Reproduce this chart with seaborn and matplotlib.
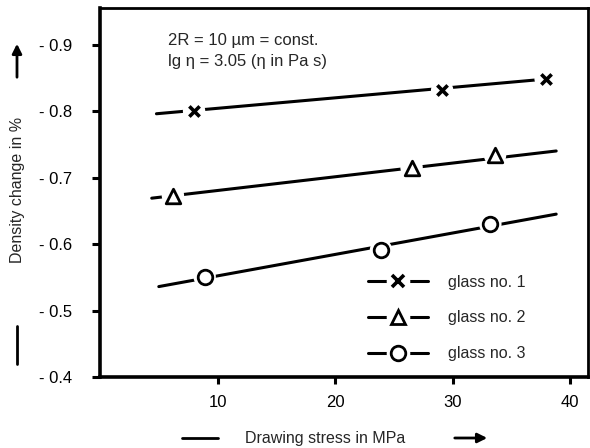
import numpy as np
import pandas as pd
import matplotlib
matplotlib.use("Agg")
import matplotlib.pyplot as plt
from matplotlib.lines import Line2D
from matplotlib.legend_handler import HandlerTuple
from matplotlib.ticker import FuncFormatter
import seaborn as sns

# measured points (drawing stress in MPa, density change in %)
glass1_x = [8.0, 29.1, 37.9]
glass1_y = [-0.800, -0.831, -0.849]
glass2_x = [6.2, 26.5, 33.6]
glass2_y = [-0.673, -0.715, -0.734]
glass3_x = [8.9, 23.9, 33.2]
glass3_y = [-0.551, -0.591, -0.630]

# fitted straight lines (end points)
fit1_x = [4.8, 37.8]
fit1_y = [-0.796, -0.848]
fit2_x = [4.4, 38.8]
fit2_y = [-0.669, -0.740]
fit3_x = [5.0, 38.8]
fit3_y = [-0.536, -0.645]

labels = ["glass no. 1", "glass no. 2", "glass no. 3"]
markers = ["x", "^", "o"]

sns.set_theme(style="ticks")
plt.rcParams["font.family"] = ["Liberation Sans", "DejaVu Sans"]

fig = plt.figure(figsize=(5.9, 4.48), dpi=100)
ax = fig.add_axes([0.1695, 0.1585, 0.827, 0.8235])

series = [(fit1_x, fit1_y, glass1_x, glass1_y),
          (fit2_x, fit2_y, glass2_x, glass2_y),
          (fit3_x, fit3_y, glass3_x, glass3_y)]

for (fx, fy, px, py), mk in zip(series, markers):
    sns.lineplot(x=fx, y=fy, ax=ax, color="black", linewidth=2.2)
    # white halo to break the line around each marker
    sns.scatterplot(x=px, y=py, ax=ax, marker="o", s=260, color="white",
                    edgecolor="none", zorder=3)
    if mk == "x":
        ax.scatter(px, py, marker="x", s=55, color="black", linewidths=2.6, zorder=4)
    else:
        sns.scatterplot(x=px, y=py, ax=ax, marker=mk, s=110, color="white",
                        edgecolor="black", linewidth=2, zorder=4)

ax.set_xlim(0, 41.5)
ax.set_ylim(-0.4, -0.955)
ax.set_xticks([10, 20, 30, 40])
ax.set_yticks([-0.9, -0.8, -0.7, -0.6, -0.5, -0.4])
ax.yaxis.set_major_formatter(FuncFormatter(lambda v, p: f"- {abs(v):.1f}"))
ax.tick_params(axis="x", direction="out", length=5, width=2.2,
               labelsize=12, colors="black", pad=8)
ax.tick_params(axis="y", direction="out", length=6, width=2.2,
               labelsize=12, colors="black", pad=14)
for s in ax.spines.values():
    s.set_linewidth(2)
    s.set_color("black")
    s.set_visible(True)
ax.spines["left"].set_linewidth(2.6)
ax.spines["bottom"].set_linewidth(2.6)
ax.set_xlabel("")
ax.set_ylabel("")

ax.text(0.139, 0.911, "2R = 10 \u00b5m = const.", transform=ax.transAxes,
        fontsize=12, va="center", ha="left")
ax.text(0.139, 0.856, "lg \u03b7 = 3.05 (\u03b7 in Pa s)", transform=ax.transAxes,
        fontsize=12, va="center", ha="left")

# legend: line - marker - line
handles = []
for mk in markers:
    line = Line2D([], [], color="black", linewidth=2.2)
    halo = Line2D([], [], marker="o", markersize=16, color="white", linestyle="none")
    if mk == "x":
        m = Line2D([], [], marker="x", markersize=8, color="black",
                   markeredgewidth=2.6, linestyle="none")
    else:
        m = Line2D([], [], marker=mk, markersize=10.5, markerfacecolor="white",
                   markeredgecolor="black", markeredgewidth=2, linestyle="none")
    handles.append((line, halo, m))
ax.legend(handles, labels, handler_map={tuple: HandlerTuple(ndivide=1)},
          loc="center left", bbox_to_anchor=(0.549, 0.160), frameon=False,
          borderpad=0, borderaxespad=0,
          fontsize=11.5, handlelength=3.75, labelspacing=1.3, handletextpad=1.25)

# axis titles with arrows
fig.text(18 / 590, 1 - 190 / 448, "Density change in %", rotation=90, fontsize=11.5,
         ha="center", va="center")
fig.add_artist(Line2D([17 / 590, 17 / 590], [1 - 326 / 448, 1 - 364 / 448],
                      color="black", linewidth=2, transform=fig.transFigure))
fig.text(325 / 590, 1 - 438 / 448, "Drawing stress in MPa", fontsize=11.5,
         ha="center", va="center")
fig.add_artist(Line2D([182 / 590, 218 / 590], [1 - 438 / 448, 1 - 438 / 448],
                      color="black", linewidth=2, transform=fig.transFigure))
ax.annotate("", xy=(17 / 590, 1 - 41 / 448), xytext=(17 / 590, 1 - 80 / 448),
            xycoords="figure fraction", textcoords="figure fraction",
            arrowprops=dict(arrowstyle="-|>", color="black", lw=2, mutation_scale=14))
ax.annotate("", xy=(490 / 590, 1 - 438 / 448), xytext=(452 / 590, 1 - 438 / 448),
            xycoords="figure fraction", textcoords="figure fraction",
            arrowprops=dict(arrowstyle="-|>", color="black", lw=2, mutation_scale=14))

fig.savefig("out.png", dpi=100)
